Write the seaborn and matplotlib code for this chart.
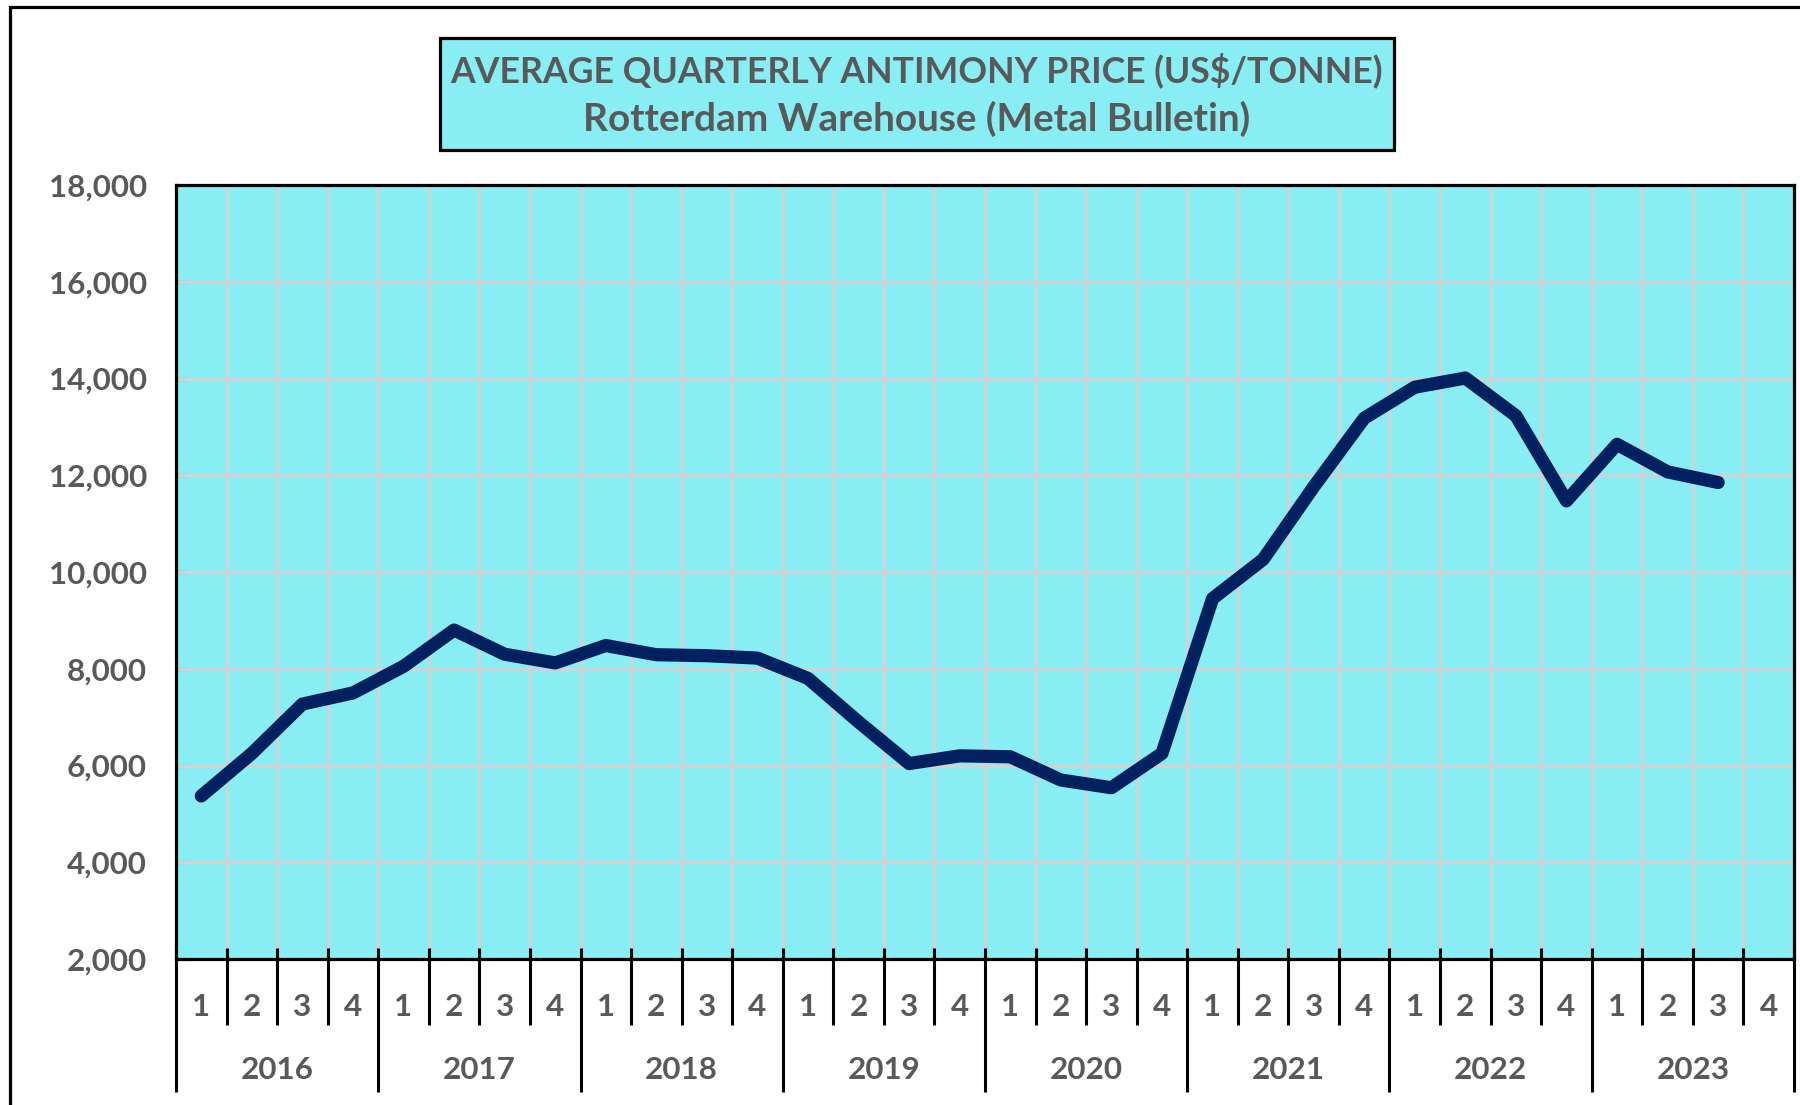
import matplotlib
matplotlib.use("Agg")
import matplotlib.pyplot as plt
import matplotlib.transforms as mtransforms
from matplotlib.patches import Rectangle
import seaborn as sns
import pandas as pd

# ---------------- data ----------------
years = [2016, 2017, 2018, 2019, 2020, 2021, 2022, 2023]
quarter_labels = ["1", "2", "3", "4"]
prices = [5370, 6250, 7270, 7500, 8050, 8800, 8300, 8120,
          8480, 8290, 8270, 8220, 7800, 6900, 6040, 6200,
          6180, 5700, 5540, 6250, 9450, 10260, 11760, 13180,
          13820, 14010, 13230, 11470, 12640, 12070, 11850]
y_ticks = [2000, 4000, 6000, 8000, 10000, 12000, 14000, 16000, 18000]
title_line1 = "AVERAGE QUARTERLY ANTIMONY PRICE (US$/TONNE)"
title_line2 = "Rotterdam Warehouse (Metal Bulletin)"

# ---------------- style ----------------
sns.set_style("white")
plt.rcParams["font.family"] = ["Lato", "DejaVu Sans"]
plt.rcParams["font.weight"] = "bold"

BG = "#88EEF4"
LINE = "#002060"
TXT = "#595959"
GRID = "#D2D2D2"

W, H = 1800, 1105
fig = plt.figure(figsize=(W / 100, H / 100), dpi=100)
renderer = fig.canvas.get_renderer()

def px_w(t):
    return t.get_window_extent(renderer).width

# axes area
ax_left, ax_right, ax_top, ax_bot = 176, 1794, 185, 959
ax = fig.add_axes([ax_left / W, (H - ax_bot) / H,
                   (ax_right - ax_left) / W, (ax_bot - ax_top) / H])
ax.set_facecolor(BG)

n_q = len(years) * len(quarter_labels)
df = pd.DataFrame({"idx": list(range(len(prices))), "price": prices})
sns.lineplot(data=df, x="idx", y="price", ax=ax, color=LINE, linewidth=9.5,
             solid_capstyle="round", solid_joinstyle="round", zorder=5)

ax.set_xlim(-0.5, n_q - 0.5)
ax.set_ylim(y_ticks[0], y_ticks[-1])
ax.set_xlabel("")
ax.set_ylabel("")

# grid
boundaries = [i - 0.5 for i in range(n_q + 1)]
for b in boundaries[1:-1]:
    ax.axvline(b, color=GRID, linewidth=2.2, zorder=1)
for yt in y_ticks[1:-1]:
    ax.axhline(yt, color=GRID, linewidth=2.2, zorder=1)

# spines
for s in ax.spines.values():
    s.set_color("black")
    s.set_linewidth(2.3)
    s.set_visible(True)

# y ticks
tmp = fig.text(0, 0, "18,000", fontsize=20, fontweight="bold")
ysize = 20 * 99 / px_w(tmp)
tmp.remove()
ax.set_yticks(y_ticks)
ax.set_yticklabels([f"{v:,}" for v in y_ticks], fontsize=ysize,
                   fontweight="bold", color=TXT)
ax.tick_params(axis="y", direction="in", length=8.5, width=2.2,
               color="black", pad=21, left=True)
ax.set_xticks([])

# category axis (quarters / years)
trans = mtransforms.blended_transform_factory(ax.transData, ax.transAxes)
ax_h = ax_bot - ax_top
y_top = (ax_bot - 948) / ax_h
y_q = (ax_bot - 1025) / ax_h
y_y = (ax_bot - 1092) / ax_h
y_qlab = (ax_bot - 1007) / ax_h
y_ylab = (ax_bot - 1070) / ax_h
for i, b in enumerate(boundaries):
    low = y_y if i % len(quarter_labels) == 0 else y_q
    ax.plot([b, b], [y_top, low], transform=trans, color="black",
            linewidth=2.2, clip_on=False, zorder=6, solid_capstyle="butt")
for yi, yr in enumerate(years):
    for qi, ql in enumerate(quarter_labels):
        x = yi * len(quarter_labels) + qi
        ax.text(x, y_qlab, ql, transform=trans, ha="center", va="center",
                fontsize=ysize, fontweight="bold", color=TXT)
    xc = yi * len(quarter_labels) + (len(quarter_labels) - 1) / 2
    ax.text(xc, y_ylab, str(yr), transform=trans, ha="center", va="center",
            fontsize=ysize, fontweight="bold", color=TXT)

# title box
bx0, bx1, by0, by1 = 440, 1394, 38, 150
fig.patches.append(Rectangle((bx0 / W, 1 - by1 / H), (bx1 - bx0) / W,
                             (by1 - by0) / H, transform=fig.transFigure,
                             facecolor=BG, edgecolor="black", linewidth=2.3,
                             zorder=3))
cx = (bx0 + bx1) / 2 / W
t1 = fig.text(cx, 1 - 70 / H, title_line1, ha="center", va="center",
              fontsize=26, fontweight="bold", color=TXT, zorder=4)
t1.set_fontsize(26 * 932 / px_w(t1))
t2 = fig.text(cx, 1 - 119 / H, title_line2, ha="center", va="center",
              fontsize=26, fontweight="bold", color=TXT, zorder=4)
t2.set_fontsize(26 * 668 / px_w(t2))

# outer frame (right/bottom beyond the canvas)
fig.patches.append(Rectangle((10 / W, -0.1), 2.0, 1 - 7 / H + 0.1,
                             transform=fig.transFigure, facecolor="none",
                             edgecolor="black", linewidth=2.3, zorder=0))

fig.savefig("out.png", dpi=100)
